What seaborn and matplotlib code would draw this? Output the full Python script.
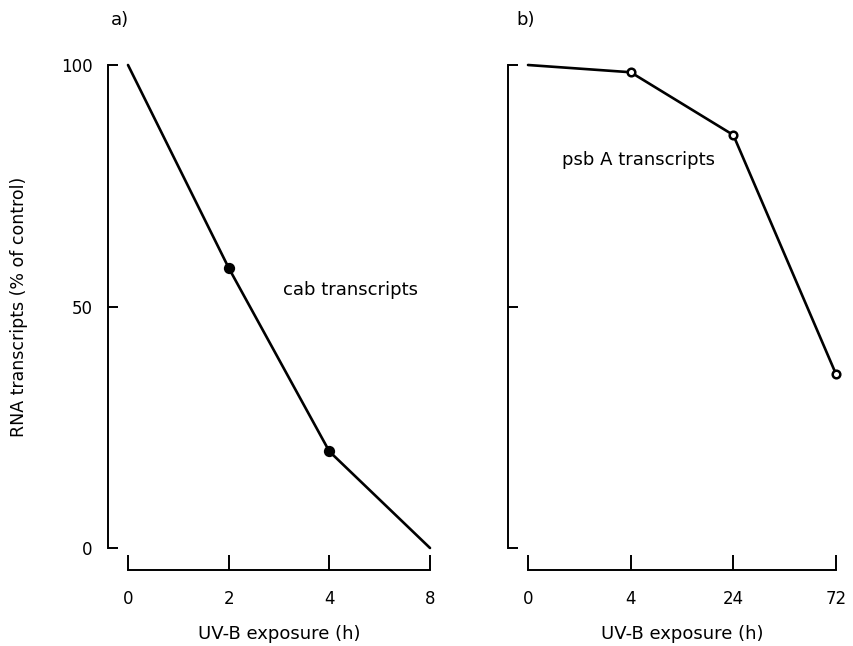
import numpy as np
import pandas as pd
import matplotlib
matplotlib.use("Agg")
import matplotlib.pyplot as plt
import seaborn as sns

# values (% of control)
cab_hours = ["0", "2", "4", "8"]
cab_values = [100, 58, 20, 0]
cab_marked = [False, True, True, False]

psba_hours = ["0", "4", "24", "72"]
psba_values = [100, 98.5, 85.5, 36]
psba_marked = [False, True, True, True]

y_ticks = [0, 50, 100]

sns.set_theme(style="ticks")
plt.rcParams["font.family"] = ["DejaVu Sans"]
plt.rcParams["text.color"] = "black"
plt.rcParams["axes.labelcolor"] = "black"

W, H = 854, 646
fig = plt.figure(figsize=(W / 100, H / 100), dpi=100)


def px_axes(x0, x1, y_top, y_bot):
    return fig.add_axes([x0 / W, 1 - y_bot / H, (x1 - x0) / W, (y_bot - y_top) / H])


def draw_panel(ax, hours, values, marked, filled, note, note_xy, show_ylabels):
    df = pd.DataFrame({"pos": np.arange(len(hours)), "value": values, "marked": marked})
    sns.lineplot(data=df, x="pos", y="value", color="black", lw=1.9, ax=ax, clip_on=False)
    pts = df[df["marked"]]
    if filled:
        sns.scatterplot(data=pts, x="pos", y="value", ax=ax, s=66, color="black",
                        edgecolor="black", linewidth=0, clip_on=False, zorder=3)
    else:
        sns.scatterplot(data=pts, x="pos", y="value", ax=ax, s=30, color="white",
                        edgecolor="black", linewidth=1.8, clip_on=False, zorder=3)

    ax.set_xlim(0, len(hours) - 1)
    ax.set_ylim(0, 100)
    ax.set_xticks(df["pos"])
    ax.set_xticklabels(hours)
    ax.set_yticks(y_ticks)
    if show_ylabels:
        ax.set_yticklabels([str(t) for t in y_ticks])
        ax.set_ylabel("RNA transcripts (% of control)", fontsize=12.5)
        ax.yaxis.set_label_coords(-0.33, 0.5)
    else:
        ax.set_yticklabels([])
        ax.set_ylabel("")

    ax.set_xlabel("UV-B exposure (h)", fontsize=13)
    ax.xaxis.set_label_coords(0.5, -0.16)

    sns.despine(ax=ax, offset={"left": 14.5, "bottom": 16})
    ax.spines["left"].set_bounds(0, 100)
    ax.spines["bottom"].set_bounds(0, len(hours) - 1)
    for side in ["left", "bottom"]:
        ax.spines[side].set_linewidth(1.4)
        ax.spines[side].set_color("black")

    ax.tick_params(axis="x", direction="in", length=11, width=1.4, pad=14,
                   labelsize=12, colors="black")
    ax.tick_params(axis="y", direction="in", length=7, width=1.4, pad=11,
                   labelsize=12, colors="black")

    ax.text(note_xy[0], note_xy[1], note, fontsize=13, ha="left", va="center")
    ax.patch.set_alpha(0)


ax_a = px_axes(128, 430, 65, 548)
draw_panel(ax_a, cab_hours, cab_values, cab_marked, True,
           "cab transcripts", (1.54, 53.5), True)

ax_b = px_axes(528, 836, 65, 548)
draw_panel(ax_b, psba_hours, psba_values, psba_marked, False,
           "psb A transcripts", (0.33, 80.3), False)

fig.text(111 / W, 1 - 20 / H, "a)", fontsize=13, va="center")
fig.text(516 / W, 1 - 20 / H, "b)", fontsize=13, va="center")

plt.savefig("out.png", dpi=100)
plt.close(fig)
